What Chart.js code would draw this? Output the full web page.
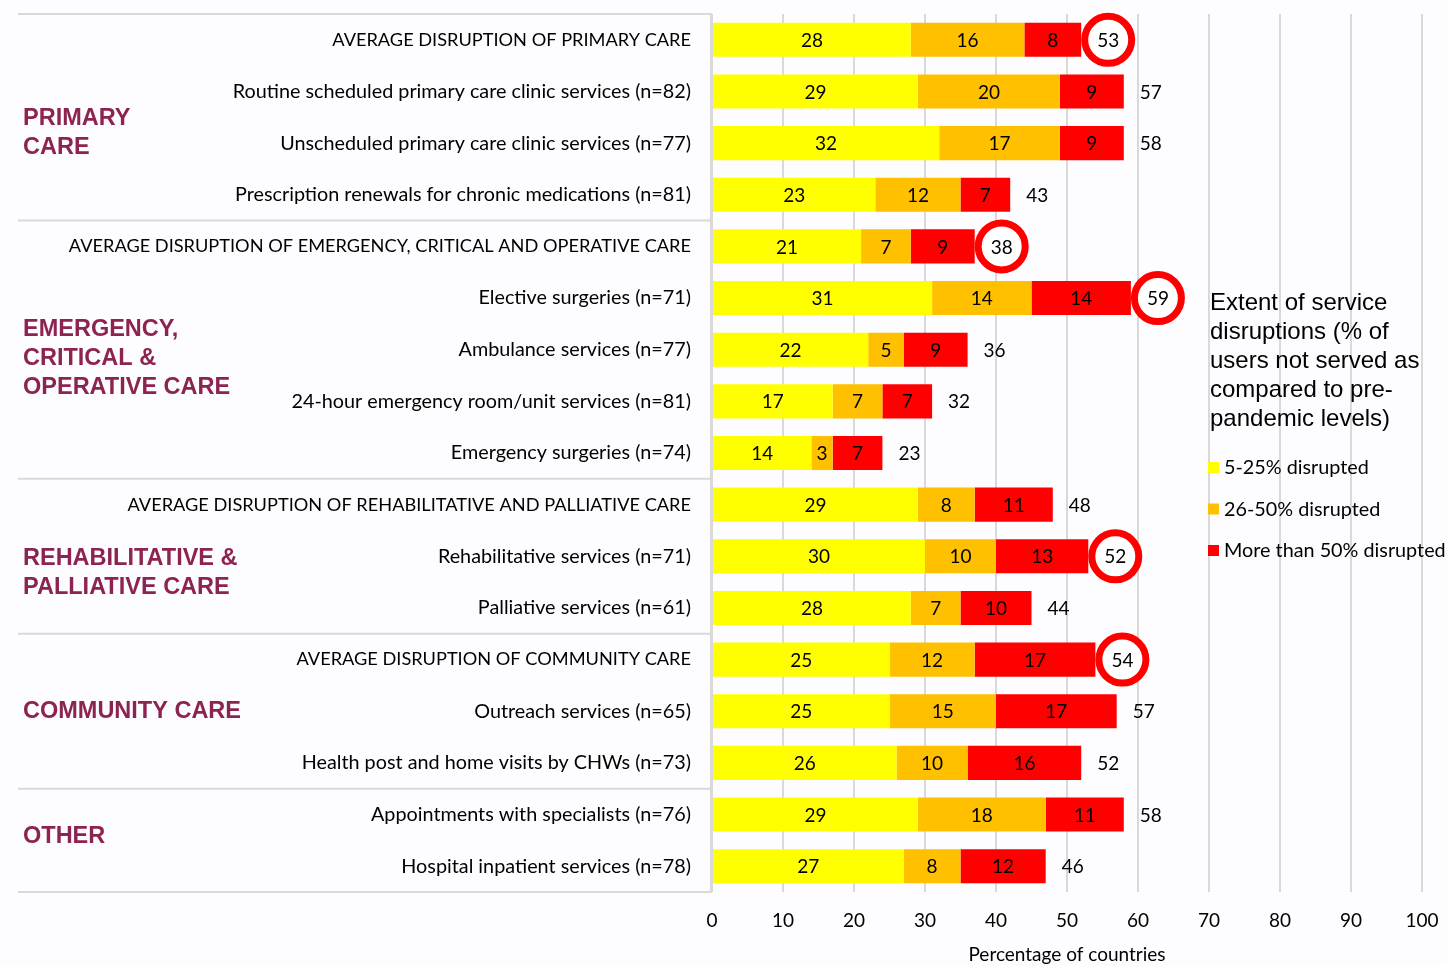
<!DOCTYPE html>
<html>
<head>
<meta charset="utf-8">
<script src="https://cdn.jsdelivr.net/npm/chart.js@4.4.0/dist/chart.umd.min.js"></script>
<style>
  html, body { margin: 0; padding: 0; background: #fdfcfe; }
</style>
</head>
<body>
<canvas id="disruptionChart" width="1447" height="966"></canvas>
<script>
const services = [
  "AVERAGE DISRUPTION OF PRIMARY CARE",
  "Routine scheduled primary care clinic services (n=82)",
  "Unscheduled primary care clinic services (n=77)",
  "Prescription renewals for chronic medications (n=81)",
  "AVERAGE DISRUPTION OF EMERGENCY, CRITICAL AND OPERATIVE CARE",
  "Elective surgeries (n=71)",
  "Ambulance services (n=77)",
  "24-hour emergency room/unit services (n=81)",
  "Emergency surgeries (n=74)",
  "AVERAGE DISRUPTION OF REHABILITATIVE AND PALLIATIVE CARE",
  "Rehabilitative services (n=71)",
  "Palliative services (n=61)",
  "AVERAGE DISRUPTION OF COMMUNITY CARE",
  "Outreach services (n=65)",
  "Health post and home visits by CHWs (n=73)",
  "Appointments with specialists (n=76)",
  "Hospital inpatient services (n=78)"
];

// % of countries per disruption band
const low  = [28, 29, 32, 23, 21, 31, 22, 17, 14, 29, 30, 28, 25, 25, 26, 29, 27];
const mid  = [16, 20, 17, 12,  7, 14,  5,  7,  3,  8, 10,  7, 12, 15, 10, 18,  8];
const high = [ 8,  9,  9,  7,  9, 14,  9,  7,  7, 11, 13, 10, 17, 17, 16, 11, 12];
const totals = [53, 57, 58, 43, 38, 59, 36, 32, 23, 48, 52, 44, 54, 57, 52, 58, 46];
const ringed = [true, false, false, false, true, true, false, false, false, false, true, false, true, false, false, false, false];

const bandNames = ["5-25% disrupted", "26-50% disrupted", "More than 50% disrupted"];
const bandColors = ["#ffff00", "#ffc000", "#ff0000"];

// section headings on the left; "at" is the row the text block centres on
const groups = [
  { lines: ["PRIMARY", "CARE"], at: 1.8 },
  { lines: ["EMERGENCY,", "CRITICAL &", "OPERATIVE CARE"], at: 6.18 },
  { lines: ["REHABILITATIVE &", "PALLIATIVE CARE"], at: 10.33 },
  { lines: ["COMMUNITY CARE"], at: 13.0 },
  { lines: ["OTHER"], at: 15.43 }
];
const groupBreaks = [4, 9, 12, 15]; // first row of each new section

const legendTitle = ["Extent of service", "disruptions (% of", "users not served as", "compared to pre-", "pandemic levels)"];

const BG = "#fdfcfe";
const LINE = "#d9d9d9";
const LABEL_FONT = "Lato, 'Open Sans', sans-serif";

const decorations = {
  id: "decorations",
  beforeDraw(chart) {
    const ctx = chart.ctx;
    ctx.save();
    ctx.fillStyle = BG;
    ctx.fillRect(0, 0, chart.width, chart.height);
    ctx.restore();
  },
  afterDraw(chart) {
    const { ctx, chartArea, scales: { x, y } } = chart;
    const step = y.getPixelForValue(1) - y.getPixelForValue(0);
    ctx.save();

    // left table frame
    ctx.strokeStyle = LINE;
    ctx.lineWidth = 2;
    ctx.beginPath();
    ctx.moveTo(18, chartArea.top); ctx.lineTo(chartArea.left, chartArea.top);
    ctx.moveTo(18, chartArea.bottom); ctx.lineTo(chartArea.left, chartArea.bottom);
    groupBreaks.forEach(r => {
      const yy = y.getPixelForValue(r) - step / 2;
      ctx.moveTo(18, yy); ctx.lineTo(chartArea.left, yy);
    });
    ctx.moveTo(chartArea.left - 1, chartArea.top); ctx.lineTo(chartArea.left - 1, chartArea.bottom);
    ctx.stroke();

    // row labels (the all-caps averages are set a little smaller)
    ctx.fillStyle = "#000";
    ctx.textAlign = "right";
    ctx.textBaseline = "middle";
    services.forEach((s, i) => {
      ctx.font = (s === s.toUpperCase() ? "18.2px " : "19.8px ") + LABEL_FONT;
      ctx.fillText(s, 691, y.getPixelForValue(i));
    });

    // section headings
    ctx.fillStyle = "#8c2350";
    ctx.font = "bold 23.5px 'Liberation Sans', Arial, sans-serif";
    ctx.textAlign = "left";
    groups.forEach(g => {
      const c = y.getPixelForValue(g.at);
      const top = c - (g.lines.length - 1) * 29 / 2;
      g.lines.forEach((l, k) => ctx.fillText(l, 23, top + k * 29));
    });

    // segment values
    ctx.fillStyle = "#000";
    ctx.font = "19px " + LABEL_FONT;
    ctx.textAlign = "center";
    chart.data.datasets.forEach((ds, di) => {
      chart.getDatasetMeta(di).data.forEach((bar, i) => {
        ctx.fillText(ds.data[i], (bar.x + bar.base) / 2, bar.y + 1);
      });
    });

    // totals, some ringed in red
    totals.forEach((t, i) => {
      const cx = x.getPixelForValue(low[i] + mid[i] + high[i]) + 27;
      const cy = y.getPixelForValue(i);
      if (ringed[i]) {
        ctx.beginPath();
        ctx.arc(cx, cy, 23.5, 0, Math.PI * 2);
        ctx.fillStyle = "#ffffff";
        ctx.fill();
        ctx.lineWidth = 7;
        ctx.strokeStyle = "#ff0000";
        ctx.stroke();
      }
      ctx.fillStyle = "#000";
      ctx.fillText(t, cx, cy + 1);
    });

    // legend
    ctx.textAlign = "left";
    ctx.font = "24px 'Liberation Sans', Arial, sans-serif";
    legendTitle.forEach((l, k) => ctx.fillText(l, 1210, 303 + k * 29));
    ctx.font = "19.8px " + LABEL_FONT;
    chart.data.datasets.forEach((ds, di) => {
      const ly = 468 + di * 41.5;
      ctx.fillStyle = ds.backgroundColor;
      ctx.fillRect(1208, ly - 6, 11, 11);
      ctx.fillStyle = "#000";
      ctx.fillText(ds.label, 1224, ly);
    });

    ctx.restore();
  }
};

new Chart(document.getElementById("disruptionChart"), {
  type: "bar",
  data: {
    labels: services,
    datasets: bandNames.map((name, k) => ({
      label: name,
      data: [low, mid, high][k],
      backgroundColor: bandColors[k],
      barPercentage: 0.66,
      categoryPercentage: 1
    }))
  },
  options: {
    indexAxis: "y",
    responsive: false,
    animation: false,
    devicePixelRatio: 1,
    layout: { padding: { left: 712, right: 25, top: 14, bottom: 0 } },
    scales: {
      x: {
        stacked: true,
        min: 0,
        max: 100,
        afterFit(scale) {
          scale.height = 74;
          scale.paddingLeft = 0;
          scale.paddingRight = 0;
        },
        ticks: { stepSize: 10, color: "#000", padding: 17, font: { size: 19, family: LABEL_FONT } },
        grid: { color: LINE, lineWidth: 2, drawTicks: false },
        border: { display: false },
        title: {
          display: true,
          text: "Percentage of countries",
          color: "#000",
          font: { size: 19, family: LABEL_FONT },
          padding: { top: 10, bottom: 0 }
        }
      },
      y: { stacked: true, display: false }
    },
    plugins: {
      legend: { display: false },
      tooltip: { enabled: false }
    }
  },
  plugins: [decorations]
});
</script>
</body>
</html>
